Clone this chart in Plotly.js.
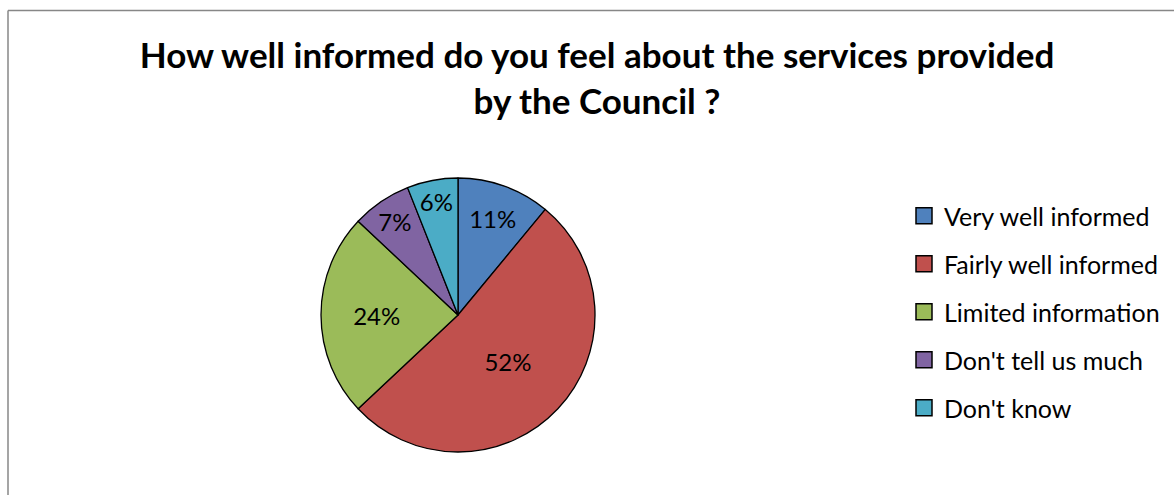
<!DOCTYPE html>
<html>
<head>
<meta charset="utf-8">
<script src="https://cdn.plot.ly/plotly-3.0.1.min.js"></script>
<style>html,body{margin:0;padding:0;background:#fff;}#chart{width:1174px;height:495px;}</style>
</head>
<body>
<div id="chart"></div>
<script>
const categories = ["Very well informed", "Fairly well informed", "Limited information", "Don't tell us much", "Don't know"];
const values = [11, 52, 24, 7, 6];
const colors = ["#4F81BD", "#C0504D", "#9BBB59", "#8064A2", "#4BACC6"];
const titleText = "How well informed do you feel about the services provided<br>by the Council ?";

const W = 1174, H = 495;
const fontFam = "Lato, 'Open Sans', sans-serif";

const traces = [{
  type: "pie",
  labels: categories,
  values: values,
  sort: false,
  direction: "clockwise",
  rotation: 0,
  marker: {colors: colors, line: {color: "#000", width: 1.3}},
  texttemplate: "%{percent:.0%}",
  textposition: "inside",
  insidetextorientation: "horizontal",
  insidetextfont: {family: fontFam, size: 24, color: "#000"},
  hoverinfo: "label+percent",
  showlegend: false,
  domain: {x: [321 / W, 595 / W], y: [(H - 452) / H, (H - 178) / H]}
}];

categories.forEach((c, i) => {
  traces.push({
    type: "scatter",
    mode: "markers",
    x: [null], y: [null],
    name: c,
    legendgroup: "g" + i,
    marker: {symbol: "square", size: 16, color: colors[i], line: {color: "#000", width: 1.5}},
    showlegend: true,
    hoverinfo: "skip"
  });
});

const layout = {
  width: W, height: H,
  margin: {l: 0, r: 0, t: 0, b: 0},
  paper_bgcolor: "#fff",
  plot_bgcolor: "rgba(0,0,0,0)",
  font: {family: fontFam, color: "#000"},
  uniformtext: {mode: "show", minsize: 24},
  title: {
    text: "<b>" + titleText + "</b>",
    font: {family: fontFam, size: 35, color: "#000"},
    x: 597 / W, xanchor: "center",
    xref: "paper",
    y: 1 - 68 / H, yanchor: "top", yref: "container"
  },
  xaxis: {visible: false, domain: [0.9, 1]},
  yaxis: {visible: false, domain: [0.9, 1]},
  showlegend: true,
  legend: {
    x: 904 / W, xanchor: "left",
    y: 1 - 193 / H, yanchor: "top",
    traceorder: "grouped",
    tracegroupgap: 12.5,
    font: {family: fontFam, size: 25, color: "#000"},
    bgcolor: "rgba(0,0,0,0)"
  },
  shapes: [
    {type: "line", xref: "paper", yref: "paper", x0: 8 / W, x1: 1, y0: 1 - 10.5 / H, y1: 1 - 10.5 / H,
     line: {color: "#878787", width: 1.5}},
    {type: "line", xref: "paper", yref: "paper", x0: 8 / W, x1: 8 / W, y0: 0, y1: 1 - 10.5 / H,
     line: {color: "#878787", width: 1.5}}
  ]
};

Plotly.newPlot("chart", traces, layout, {displayModeBar: false, staticPlot: true});
</script>
</body>
</html>
